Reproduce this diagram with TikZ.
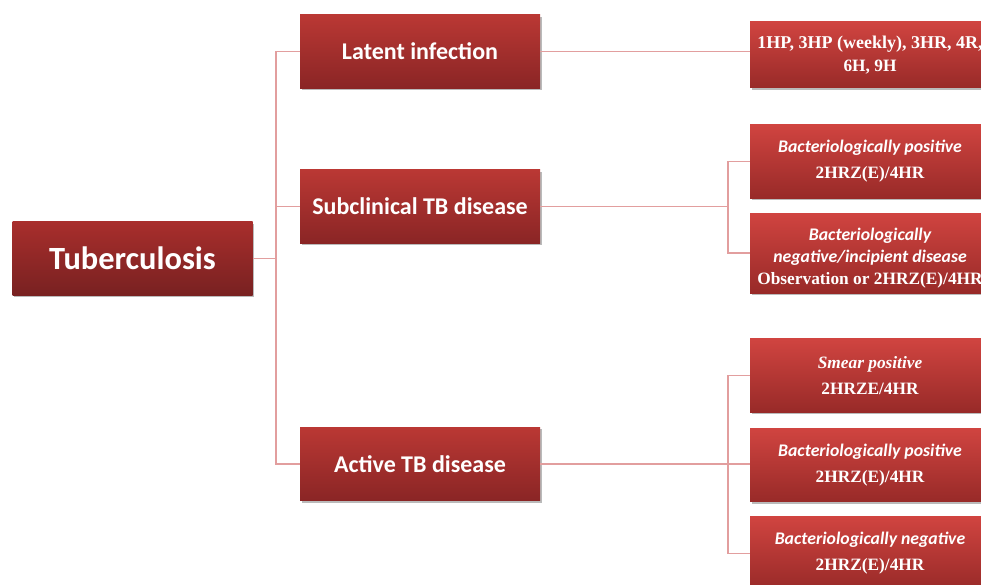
\documentclass[tikz,border=0pt]{standalone}
\usepackage{fontspec}
\setmainfont{Carlito}
\newfontfamily\drugfont{Liberation Serif}
\usepackage{tikz}
\usetikzlibrary{shadows}
\definecolor{tbtop}{RGB}{168,46,44}
\definecolor{tbbot}{RGB}{120,33,33}
\definecolor{grptop}{RGB}{186,56,52}
\definecolor{grpbot}{RGB}{138,37,37}
\definecolor{regtop}{RGB}{208,68,64}
\definecolor{regbot}{RGB}{152,42,40}
\definecolor{linkred}{RGB}{226,158,158}
\newcommand{\drugtext}[1]{{\drugfont\bfseries\fontsize{13}{15}\selectfont #1}}
\newcommand{\casetext}[1]{{\bfseries\itshape #1}}
\tikzstyle{group} = [rectangle, minimum width=180pt, minimum height=55pt, top color=grptop, bottom color=grpbot, text=white, font=\bfseries\fontsize{18}{21}\selectfont, drop shadow={shadow xshift=1.2pt, shadow yshift=-1.5pt, fill=black!45, opacity=0.6}]
\tikzstyle{regimen} = [group, top color=regtop, bottom color=regbot, align=center, font=\fontsize{13.3}{16}\selectfont]
\tikzstyle{link} = [draw, line width=1pt, linkred]

\begin{document}
\begin{tikzpicture}[x=0.75pt,y=-0.75pt]
\useasboundingbox (0,0) rectangle (981,585);

\node[
  group,
  top color=tbtop,
  bottom color=tbbot,
  font=\bfseries\fontsize{24.3}{28}\selectfont
  ] (tb) at (132.5,258.5) {Tuberculosis};

\node[group] (latent) at (420,51.5) {Latent infection};
\node[group] (subclin) at (420,206.5) {Subclinical TB disease};
\node[group] (active) at (420,464) {Active TB disease};

\node[regimen, minimum height=49.5pt] (latreg) at (870,55)
  {{\drugfont\bfseries\fontsize{13.5}{15}\selectfont 1HP, 3HP (weekly), 3HR, 4R,}\\[1.5pt]\drugtext{6H, 9H}};

\node[regimen] (subpos) at (870,161.5)
  {\casetext{Bacteriologically positive}\\[3.5pt]\drugtext{2HRZ(E)/4HR}};
\node[regimen, minimum height=60pt] (subneg) at (870,253)
  {\rule{0pt}{17pt}\casetext{Bacteriologically}\\[0.5pt]\casetext{negative/incipient disease}\\[1pt]\drugtext{Observation or 2HRZ(E)/4HR}};

\node[regimen] (smear) at (870,375.5)
  {{\drugfont\bfseries\itshape\fontsize{13}{15}\selectfont Smear positive}\\[3.5pt]\drugtext{2HRZE/4HR}};
\node[regimen] (actpos) at (870,465)
  {\casetext{Bacteriologically positive}\\[3.5pt]\drugtext{2HRZ(E)/4HR}};
\node[regimen] (actneg) at (870,553.5)
  {\casetext{Bacteriologically negative}\\[3.5pt]\drugtext{2HRZ(E)/4HR}};

\coordinate (trunk) at (276,258.5);
\draw[link] (tb) -- (trunk);
\draw[link] (latent.west) -| (trunk) |- (active.west);
\draw[link] (trunk |- subclin.west) -- (subclin.west);
\draw[link] (latent) -- (latent.east -| latreg.west);

\coordinate (subfork) at (728,206.5);
\draw[link] (subclin) -- (subfork);
\draw[link] (subpos.west) -| (subfork) |- (subneg.west);

\coordinate (actfork) at (728,464);
\draw[link] (active) -- (actfork);
\draw[link] (smear.west) -| (actfork) |- (actneg.west);
\draw[link] (actfork) -- (actfork -| actpos.west);
\end{tikzpicture}
\end{document}
